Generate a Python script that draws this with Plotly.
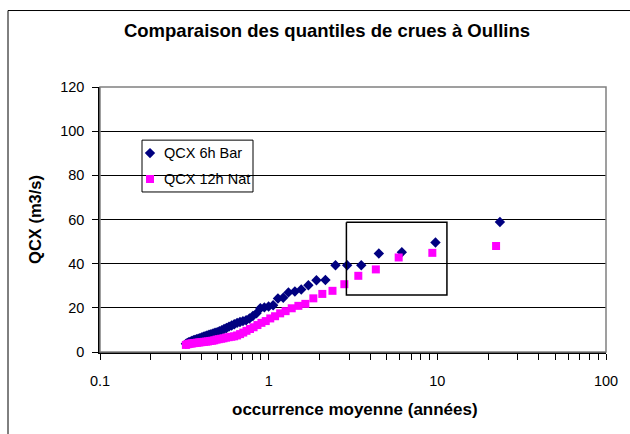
import plotly.graph_objects as go

# --- Data ---
bar_T = [23.5, 9.75, 6.16, 4.50, 3.54, 2.92, 2.49, 2.17, 1.92, 1.72,
         1.56, 1.43, 1.31, 1.22, 1.135, 1.063, 0.999, 0.943, 0.893, 0.847,
         0.806, 0.769, 0.735, 0.704, 0.676, 0.650, 0.625, 0.603, 0.582, 0.562,
         0.544, 0.527, 0.510, 0.495, 0.481, 0.468, 0.455, 0.443, 0.431, 0.420,
         0.410, 0.400, 0.391, 0.382, 0.373, 0.365, 0.358, 0.350, 0.343, 0.336,
         0.329, 0.323]
bar_Q = [58.9, 49.6, 45.2, 44.6, 39.3, 39.3, 39.3, 32.6, 32.5, 30.2,
         28.3, 27.4, 27.0, 24.6, 24.2, 21.2, 20.6, 20.2, 19.8, 17.5,
         16.3, 15.2, 14.4, 14.0, 13.6, 13.2, 12.6, 12.0, 11.5, 10.9,
         10.4, 9.9, 9.4, 9.0, 8.7, 8.4, 8.1, 7.8, 7.5, 7.2,
         6.9, 6.6, 6.3, 6.0, 5.8, 5.5, 5.3, 5.0, 4.7, 4.4,
         4.1, 3.7]

nat_T = [22.3, 9.34, 5.90, 4.32, 3.40, 2.81, 2.39, 2.08, 1.84, 1.65,
         1.50, 1.37, 1.26, 1.17, 1.091, 1.022, 0.961, 0.906, 0.858, 0.814,
         0.775, 0.739, 0.707, 0.677, 0.650, 0.624, 0.601, 0.579, 0.559, 0.540,
         0.523, 0.506, 0.491, 0.476, 0.463, 0.450, 0.437, 0.426, 0.414, 0.404,
         0.394, 0.385, 0.376, 0.367, 0.359, 0.351, 0.344, 0.336, 0.330, 0.323]
nat_Q = [48.0, 44.9, 42.8, 37.4, 34.5, 30.7, 27.7, 26.3, 24.3, 21.8,
         20.9, 19.8, 18.5, 17.5, 16.2, 15.2, 14.0, 13.2, 12.2, 11.2,
         10.4, 9.6, 8.8, 8.1, 7.5, 7.1, 6.9, 6.7, 6.5, 6.2,
         6.0, 5.8, 5.6, 5.3, 5.1, 5.0, 4.8, 4.7, 4.6, 4.5,
         4.4, 4.3, 4.2, 4.1, 4.0, 3.9, 3.8, 3.7, 3.5, 3.2]

series_names = ["QCX 6h Bar", "QCX 12h Nat"]

# highlight box (data coordinates)
box_T = [2.89, 11.4]
box_Q = [25.8, 58.8]

x_major = [0.1, 1, 10, 100]
x_minor = [m * d for d in (0.1, 1, 10) for m in range(2, 10)]
y_ticks = [0, 20, 40, 60, 80, 100, 120]

NAVY = "#000080"
PINK = "#FF00FF"
FONT = "Liberation Sans, Arial, sans-serif"

fig = go.Figure()

fig.add_trace(go.Scatter(
    x=bar_T, y=bar_Q, mode="markers", name=series_names[0], showlegend=False,
    marker=dict(symbol="diamond", size=8, color=NAVY, line=dict(width=0)),
))
fig.add_trace(go.Scatter(
    x=nat_T, y=nat_Q, mode="markers", name=series_names[1], showlegend=False,
    marker=dict(symbol="square", size=8, color=PINK, line=dict(width=0)),
))
# rectangle around the upper quantiles
fig.add_trace(go.Scatter(
    x=[box_T[0], box_T[1], box_T[1], box_T[0], box_T[0]],
    y=[box_Q[1], box_Q[1], box_Q[0], box_Q[0], box_Q[1]],
    mode="lines", line=dict(color="black", width=1.5), showlegend=False,
    hoverinfo="skip",
))

# --- manual legend on an overlay axis (pixel-like coords) ---
L, R, T, B = 100, 606, 86.7, 352.5
fig.add_trace(go.Scatter(
    x=[150], y=[153], xaxis="x2", yaxis="y2", mode="markers", showlegend=False,
    marker=dict(symbol="diamond", size=8, color=NAVY), hoverinfo="skip"))
fig.add_trace(go.Scatter(
    x=[150], y=[179], xaxis="x2", yaxis="y2", mode="markers", showlegend=False,
    marker=dict(symbol="square", size=8, color=PINK), hoverinfo="skip"))

def px2paper_x(p):
    return (p - L) / (R - L)

def px2paper_y(p):
    return (B - p) / (B - T)

shapes = [
    # legend box
    dict(type="rect", xref="paper", yref="paper",
         x0=px2paper_x(142), x1=px2paper_x(253), y0=px2paper_y(140), y1=px2paper_y(192),
         line=dict(color="black", width=1), fillcolor="white", layer="below"),
    # plot area border (grey)
    dict(type="rect", xref="paper", yref="paper", x0=0, x1=1, y0=0, y1=1,
         line=dict(color="#808080", width=1.5), layer="above"),
    # chart area border
    dict(type="rect", xref="paper", yref="paper",
         x0=px2paper_x(8), x1=px2paper_x(650), y0=px2paper_y(460), y1=px2paper_y(10),
         line=dict(color="black", width=1), layer="below"),
]

annotations = [
    dict(text=series_names[0], xref="paper", yref="paper", x=px2paper_x(162), y=px2paper_y(153),
         xanchor="left", yanchor="middle", showarrow=False, font=dict(family=FONT, size=14.5, color="black")),
    dict(text=series_names[1], xref="paper", yref="paper", x=px2paper_x(162), y=px2paper_y(179),
         xanchor="left", yanchor="middle", showarrow=False, font=dict(family=FONT, size=14.5, color="black")),
    dict(text="<b>QCX (m3/s)</b>", xref="paper", yref="paper", x=px2paper_x(35), y=px2paper_y(220),
         textangle=-90, xanchor="center", yanchor="middle", showarrow=False,
         font=dict(family=FONT, size=16.5, color="black")),
    dict(text="<b>occurrence moyenne (années)</b>", xref="paper", yref="paper",
         x=px2paper_x(355), y=px2paper_y(410), xanchor="center", yanchor="middle", showarrow=False,
         font=dict(family=FONT, size=17, color="black")),
]

fig.update_layout(
    width=630, height=434,
    margin=dict(l=L, r=630 - R, t=T, b=434 - B, pad=0),
    paper_bgcolor="white", plot_bgcolor="white",
    showlegend=False,
    title=dict(text="<b>Comparaison des quantiles de crues à Oullins</b>",
               x=327 / 630, xref="container", xanchor="center",
               y=1 - 31 / 434, yref="container", yanchor="middle",
               font=dict(family=FONT, size=18.5, color="black")),
    xaxis=dict(type="log", range=[-1, 2], tickvals=x_major, ticktext=["0.1", "1", "10", "100"],
               ticks="outside", ticklen=6, tickcolor="black", tickwidth=1, ticklabelstandoff=9,
               showline=True, linecolor="black", linewidth=1.5, showgrid=False, zeroline=False,
               tickfont=dict(family=FONT, size=14.5, color="black"),
               minor=dict(tickvals=x_minor, ticks="outside", ticklen=6, tickcolor="black",
                          tickwidth=1, showgrid=False)),
    yaxis=dict(range=[0, 120], tickvals=y_ticks, ticks="outside", ticklen=6, tickcolor="black",
               ticklabelstandoff=5,
               showline=True, linecolor="black", linewidth=1.5,
               showgrid=True, gridcolor="black", gridwidth=1, zeroline=False,
               tickfont=dict(family=FONT, size=14.5, color="black")),
    xaxis2=dict(overlaying="x", range=[L, R], visible=False, anchor="y2", fixedrange=True),
    yaxis2=dict(overlaying="y", range=[B, T], visible=False, anchor="x2", fixedrange=True),
    shapes=shapes,
    annotations=annotations,
)

fig.write_html(
    "out.html",
    config={"displayModeBar": False},
    post_script="document.body.style.margin='0px';document.body.style.overflow='hidden';",
)
